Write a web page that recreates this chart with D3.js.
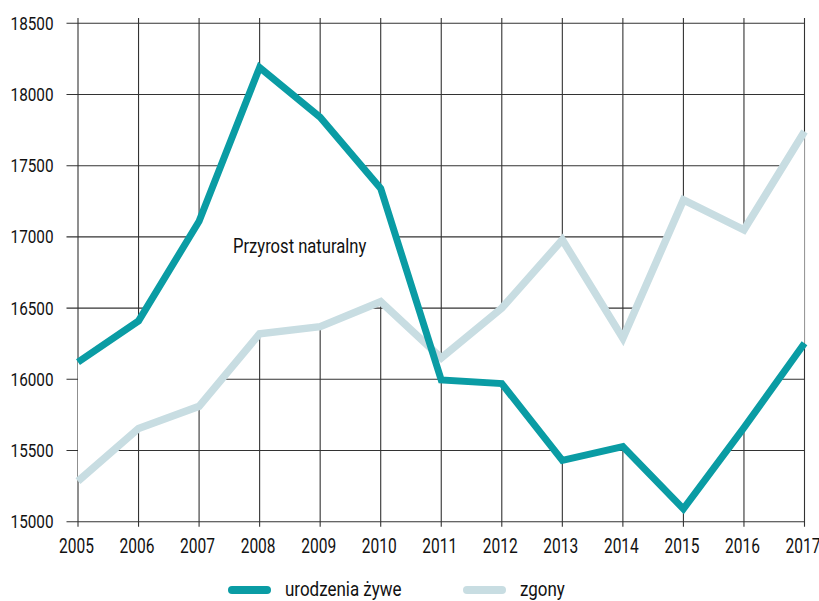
<!DOCTYPE html>
<html>
<head>
<meta charset="utf-8">
<script src="https://cdn.jsdelivr.net/npm/d3@7"></script>
<style>
  body { margin: 0; background: #fff; }
  text { font-family: "Liberation Sans Narrow", "Roboto", sans-serif; fill: #111; }
</style>
</head>
<body>
<div id="chart"></div>
<script>
width = 819;
height = 601;

margin = { top: 23.3, right: 14, bottom: 79.3, left: 78 };

//////// Data ////////
const years = [2005, 2006, 2007, 2008, 2009, 2010, 2011, 2012, 2013, 2014, 2015, 2016, 2017];
const births = [16120, 16410, 17110, 18190, 17840, 17340, 15995, 15970, 15430, 15527, 15090, 15660, 16253];
const deaths = [15285, 15655, 15810, 16320, 16370, 16545, 16150, 16500, 16980, 16288, 17260, 17050, 17740];
const yTicks = [15000, 15500, 16000, 16500, 17000, 17500, 18000, 18500];
const seriesNames = ['urodzenia żywe', 'zgony'];
const seriesColors = ['#0a9ca4', '#c8dde2'];
const annotation = 'Przyrost naturalny';

const data = years.map((y, i) => ({ year: y, births: births[i], deaths: deaths[i] }));

//////// Scales ////////
const xScale = d3.scaleLinear()
    .domain([2005, 2017])
    .range([margin.left, width - margin.right - 0.5]);

const yScale = d3.scaleLinear()
    .domain([15000, 18500])
    .range([height - margin.bottom, margin.top]);

const svg = d3.select('#chart')
    .append('svg')
    .attr('width', width)
    .attr('height', height);

// narrow text: no condensed font installed, so squeeze horizontally
function narrow(sel, x, y, sx) {
    sel.attr('transform', (d, i) => `translate(${x(d, i)},${y(d, i)}) scale(${sx},1)`);
}

//////// Grid ////////
svg.append('g')
    .selectAll('line')
    .data(yTicks)
    .join('line')
    .attr('x1', 66.5)
    .attr('x2', xScale(2017))
    .attr('y1', d => yScale(d))
    .attr('y2', d => yScale(d))
    .attr('stroke', '#333')
    .attr('stroke-width', 1.1);

svg.append('g')
    .selectAll('line')
    .data(years)
    .join('line')
    .attr('x1', d => xScale(d))
    .attr('x2', d => xScale(d))
    .attr('y1', 18)
    .attr('y2', yScale(15000) + 5)
    .attr('stroke', '#333')
    .attr('stroke-width', 1.1);

// y axis labels
svg.append('g')
    .selectAll('text')
    .data(yTicks)
    .join('text')
    .attr('dy', '0.36em')
    .attr('text-anchor', 'end')
    .style('font-size', '18px')
    .text(d => d)
    .call(narrow, () => 53.5, d => yScale(d), 0.85);

// x axis labels
svg.append('g')
    .selectAll('text')
    .data(years)
    .join('text')
    .attr('text-anchor', 'middle')
    .style('font-size', '21px')
    .text(d => d)
    .call(narrow, d => xScale(d) - 1.5, () => 552.5, 0.74);

//////// Area between the curves (natural increase) ////////
const area = d3.area()
    .x(d => xScale(d.year))
    .y0(d => yScale(d.births))
    .y1(d => yScale(d.deaths));

svg.append('path')
    .datum(data)
    .attr('d', area)
    .attr('fill', '#fff');

//////// Lines ////////
const lineDeaths = d3.line()
    .x(d => xScale(d.year))
    .y(d => yScale(d.deaths));

const lineBirths = d3.line()
    .x(d => xScale(d.year))
    .y(d => yScale(d.births));

svg.append('path')
    .datum(data)
    .attr('d', lineDeaths)
    .attr('fill', 'none')
    .attr('stroke', seriesColors[1])
    .attr('stroke-width', 7.5)
    .attr('stroke-linejoin', 'miter');

svg.append('path')
    .datum(data)
    .attr('d', lineBirths)
    .attr('fill', 'none')
    .attr('stroke', seriesColors[0])
    .attr('stroke-width', 7)
    .attr('stroke-linejoin', 'miter');

//////// Annotation ////////
svg.append('text')
    .datum(annotation)
    .style('font-size', '20px')
    .text(d => d)
    .call(narrow, () => 233, () => 253, 0.83);

//////// Legend ////////
const legendPos = [{ x: 228, tx: 285 }, { x: 463, tx: 520 }];

const legend = svg.append('g')
    .selectAll('g')
    .data(seriesNames)
    .join('g')
    .attr('transform', (d, i) => `translate(${legendPos[i].x},590)`);

legend.append('line')
    .attr('x1', 4)
    .attr('x2', 39)
    .attr('stroke', (d, i) => seriesColors[i])
    .attr('stroke-width', 8)
    .attr('stroke-linecap', 'round');

legend.append('text')
    .attr('dy', '0.3em')
    .style('font-size', '19.5px')
    .text(d => d)
    .call(narrow, (d, i) => legendPos[i].tx - legendPos[i].x, () => 0, 0.87);
</script>
</body>
</html>
